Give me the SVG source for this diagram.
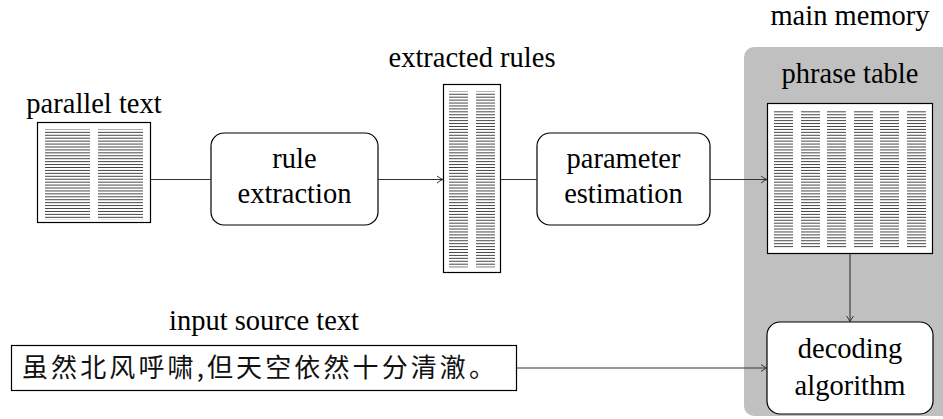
<svg xmlns="http://www.w3.org/2000/svg" width="943" height="419" viewBox="0 0 943 419">
<style>
text.t{font-family:'Liberation Serif','Times New Roman','DejaVu Serif',serif;font-size:28.5px;fill:#000;text-anchor:middle}
.box{fill:#fff;stroke:#000;stroke-width:1.2}
.rbox{fill:#fff;stroke:#000;stroke-width:1.2}
.conn{fill:none;stroke:#333;stroke-width:1.1}
text.cjk{font-family:'Noto Sans CJK SC','Noto Sans CJK TC',sans-serif;font-size:26px;fill:#111}
</style>
<defs>
<pattern id="lines" patternUnits="userSpaceOnUse" x="0" y="0" width="10" height="2.93">
<rect x="0" y="0" width="10" height="0.9" fill="#333"/>
</pattern>
<marker id="arr" markerWidth="10" markerHeight="10" refX="8" refY="5" orient="auto" markerUnits="userSpaceOnUse">
<path d="M2,1.5 Q5,4 8,5 Q5,6 2,8.5" fill="none" stroke="#333" stroke-width="1"/>
</marker>
</defs>
<rect id="memory" x="744" y="47" width="215" height="369" rx="10" fill="#c0c0c0"/>
<text class="t" font-family="Liberation Serif, serif" x="850" y="25">main memory</text>
<g id="parallel-text">
<text class="t" font-family="Liberation Serif, serif" x="94" y="113">parallel text</text>
<rect class="box" x="37.5" y="122.5" width="113" height="100"/>
<rect x="45" y="129.5" width="45" height="90" fill="url(#lines)"/>
<rect x="98" y="129.5" width="45" height="90" fill="url(#lines)"/>
</g>
<g id="rule-extraction">
<rect class="rbox" x="211" y="133" width="167" height="92" rx="13"/>
<text class="t" font-family="Liberation Serif, serif" x="294.5" y="168">rule</text>
<text class="t" font-family="Liberation Serif, serif" x="294.5" y="203">extraction</text>
</g>
<g id="extracted-rules">
<text class="t" font-family="Liberation Serif, serif" x="472" y="67">extracted rules</text>
<rect class="box" x="443.5" y="84.5" width="57" height="188"/>
<rect x="449" y="91.5" width="19" height="176" fill="url(#lines)"/>
<rect x="476" y="91.5" width="19" height="176" fill="url(#lines)"/>
</g>
<g id="parameter-estimation">
<rect class="rbox" x="537" y="133" width="173" height="92" rx="13"/>
<text class="t" font-family="Liberation Serif, serif" x="623.5" y="168">parameter</text>
<text class="t" font-family="Liberation Serif, serif" x="623.5" y="203">estimation</text>
</g>
<g id="phrase-table">
<text class="t" font-family="Liberation Serif, serif" x="850" y="83">phrase table</text>
<rect class="box" x="767.5" y="103.5" width="165" height="150"/>
<rect x="774" y="110" width="19" height="138" fill="url(#lines)"/>
<rect x="801" y="110" width="19" height="138" fill="url(#lines)"/>
<rect x="827" y="110" width="19" height="138" fill="url(#lines)"/>
<rect x="854" y="110" width="19" height="138" fill="url(#lines)"/>
<rect x="880" y="110" width="19" height="138" fill="url(#lines)"/>
<rect x="907" y="110" width="19" height="138" fill="url(#lines)"/>
</g>
<g id="decoding-algorithm">
<rect class="rbox" x="767" y="322" width="166" height="92" rx="13"/>
<text class="t" font-family="Liberation Serif, serif" x="850" y="358">decoding</text>
<text class="t" font-family="Liberation Serif, serif" x="850" y="395">algorithm</text>
</g>
<g id="input-source">
<text class="t" font-family="Liberation Serif, serif" x="264" y="330">input source text</text>
<rect class="box" x="11.5" y="345.5" width="505" height="45"/>
<text class="cjk" x="22" y="377" textLength="473" lengthAdjust="spacing">虽然北风呼啸,但天空依然十分清澈。</text>
</g>
<g id="connectors">
<path class="conn" d="M151,179.5 H211"/>
<path class="conn" d="M378,179.5 H443" marker-end="url(#arr)"/>
<path class="conn" d="M501,179.5 H537"/>
<path class="conn" d="M710,179.5 H767" marker-end="url(#arr)"/>
<path class="conn" d="M850,254 V322" marker-end="url(#arr)"/>
<path class="conn" d="M517,368 H767" marker-end="url(#arr)"/>
</g>
</svg>
